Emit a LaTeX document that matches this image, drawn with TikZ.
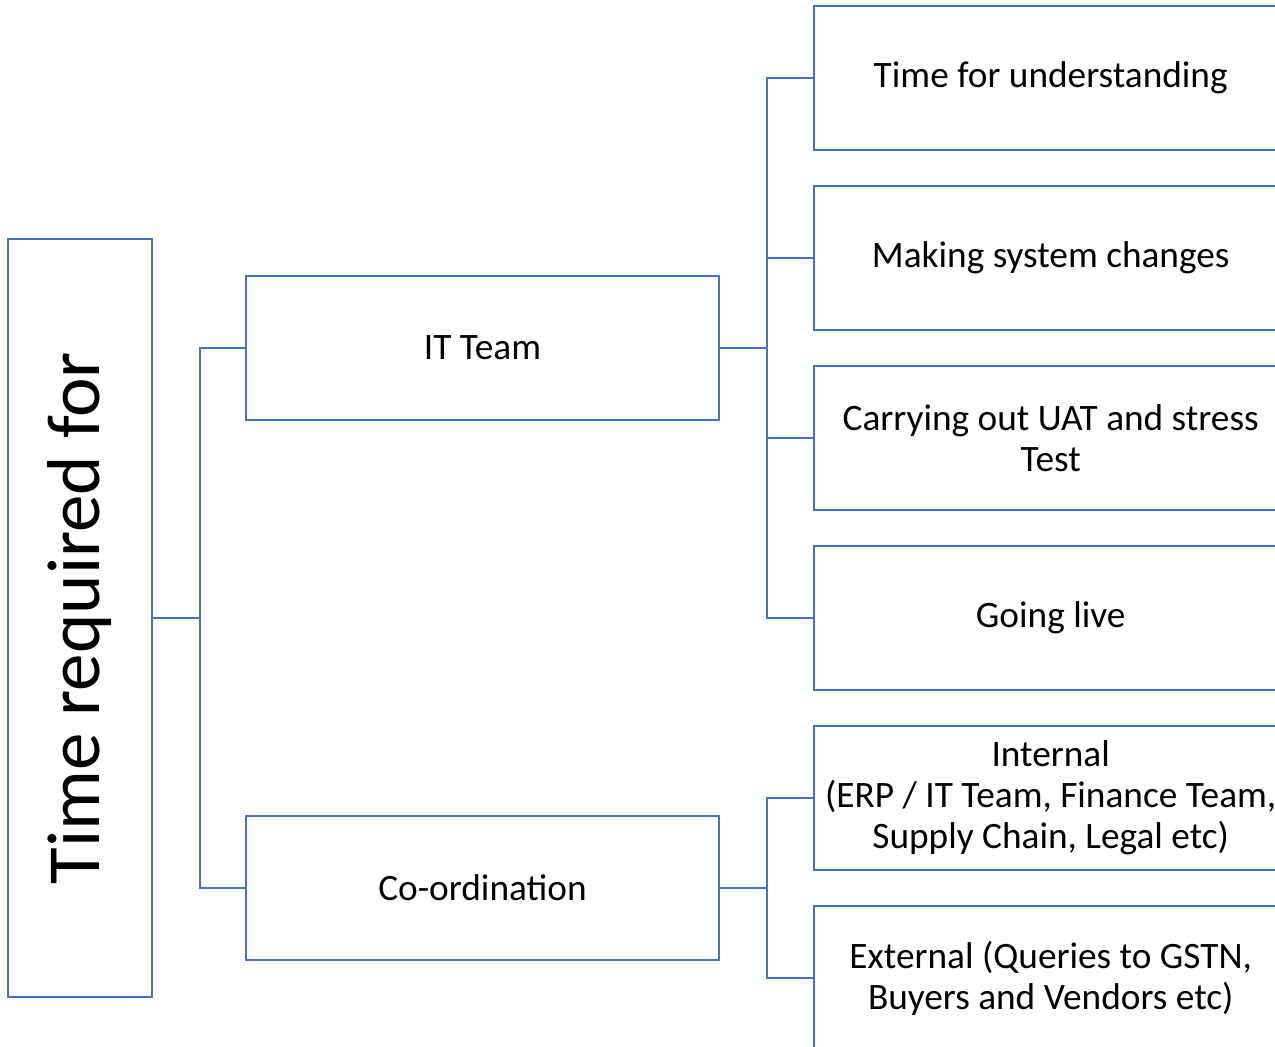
\documentclass[tikz,border=0pt]{standalone}
\usepackage{fontspec}
\setmainfont{Carlito}
\usepackage{tikz}
\usetikzlibrary{positioning}

\definecolor{boxblue}{HTML}{4472C4}

\tikzset{
  box/.style={draw=boxblue, line width=2.4pt, minimum width=473pt, minimum height=144pt,
    align=center, inner sep=0pt, font=\fontsize{37.3}{41}\selectfont},
  leaf/.style={box, anchor=west},
  link/.style={draw=boxblue, line width=2.4pt},
}

\begin{document}
\begin{tikzpicture}[x=1pt, y=-1pt]
\useasboundingbox (0,0) rectangle (1275,1047);
\clip (0,0) rectangle (1275,1047);

% root, text turned up the page
\node[draw=boxblue, line width=2.4pt, minimum width=144pt, minimum height=758pt, inner sep=0pt,
  font=\fontsize{75}{80}\selectfont] (root) at (80,618) {\rotatebox{90}{Time required for}};

% second level
\node[box] (it) at (482.5,348) {IT Team};
\node[box] (coord) at (482.5,888) {Co-ordination};

% third level
\node[leaf] (understand) at (813,78) {Time for understanding};
\node[leaf] (changes) at (813,258) {Making system changes};
\node[leaf] (uat) at (813,438) {Carrying out UAT and stress\\Test};
\node[leaf] (live) at (813,618) {Going live};
\node[leaf] (internal) at (813,798) {Internal\\(ERP / IT Team, Finance Team,\\Supply Chain, Legal etc)};
\node[leaf] (external) at (813,978) {External (Queries to GSTN,\\Buyers and Vendors etc)};

% connectors
\coordinate (j0) at ([xshift=47pt]root.east);
\draw[link] (root.east) -- (j0);
\draw[link] (j0) |- (it.west);
\draw[link] (j0) |- (coord.west);

\coordinate (j1) at ([xshift=47pt]it.east);
\draw[link] (it.east) -- (j1);
\foreach \n in {understand, changes, uat, live}
  \draw[link] (j1) |- (\n.west);

\coordinate (j2) at ([xshift=47pt]coord.east);
\draw[link] (coord.east) -- (j2);
\foreach \n in {internal, external}
  \draw[link] (j2) |- (\n.west);
\end{tikzpicture}
\end{document}
